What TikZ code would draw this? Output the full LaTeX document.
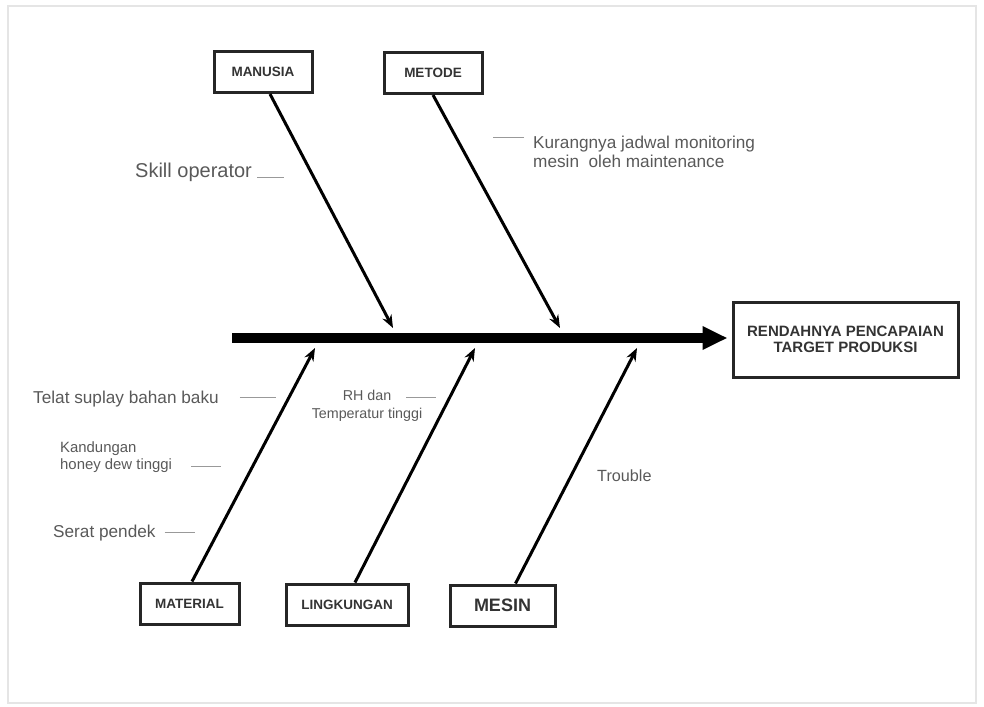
\documentclass[tikz,border=0pt]{standalone}
\usepackage{fontspec}
\setmainfont{Liberation Sans}
\usetikzlibrary{arrows.meta,positioning}
\tikzset{>=stealth}
\tikzset{
  cat/.style={draw=black!85, line width=3pt, minimum height=41pt, inner sep=0pt,
    text=black!80, font=\bfseries\fontsize{13.5}{15}\selectfont},
  cause/.style={inner sep=0pt, align=left, text=black!65,
    font=\fontsize{17.2}{19}\selectfont},
  tick/.style={draw=black!40, line width=1pt},
  bone/.style={line width=3pt, -{Stealth[length=13pt,width=10pt]}},
  spine/.style={line width=10pt, -{Triangle[length=25pt,width=22pt]}}
}

\begin{document}
\begin{tikzpicture}[x=1pt,y=-1pt]
  \useasboundingbox (0,0) rectangle (984,706);
  \draw[black!10, line width=1.5pt] (8,6) rectangle (976,703);

  \node[cat, minimum width=98pt] (man) at (263,72) {MANUSIA};
  \node[cat, minimum width=98pt] (met) at (433,73) {METODE};
  \node[cat, minimum width=99pt] (mat) at (189.5,603.5) {MATERIAL};
  \node[cat, minimum width=122pt] (lin) at (347,604.5) {LINGKUNGAN};
  \node[cat, minimum width=105pt, font=\bfseries\fontsize{18}{20}\selectfont] (mes) at (502.5,605.5) {MESIN};
  \node[cat, minimum width=225pt, minimum height=75pt, align=center,
    font=\bfseries\fontsize{15}{16}\selectfont] (eff) at (845.5,339.5) {RENDAHNYA PENCAPAIAN\\TARGET PRODUKSI};

  \coordinate (tail) at (232,338);
  \draw[spine] (tail) -- ([xshift=-4pt]tail -| eff.west);

  \coordinate (mantip) at (393,328);
  \coordinate (mettip) at (560,328);
  \coordinate (mattip) at (315,348);
  \coordinate (lintip) at (475,348);
  \coordinate (mestip) at (637,348);
  \draw[bone] ([xshift=7pt]man.south) -- (mantip);
  \draw[bone] (met.south) -- (mettip);
  \draw[bone] ([xshift=2.5pt]mat.north) -- (mattip);
  \draw[bone] ([xshift=8pt]lin.north) -- (lintip);
  \draw[bone] ([xshift=13pt]mes.north) -- (mestip);

  \node[cause, anchor=west, font=\fontsize{20}{22}\selectfont] (skill) at (135,172) {Skill operator};
  \node[cause, anchor=west] (kur) at (533,152) {Kurangnya jadwal monitoring\\mesin\ \ oleh maintenance};
  \node[cause, anchor=west] (tel) at (33,399) {Telat suplay bahan baku};
  \node[cause, align=center, font=\fontsize{14.3}{18}\selectfont] (rh) at (367,406) {RH dan\\Temperatur tinggi};
  \node[cause, anchor=west, font=\fontsize{14.9}{17}\selectfont] (kan) at (60,457) {Kandungan\\honey dew tinggi};
  \node[cause, anchor=west] (ser) at (53,533) {Serat pendek};
  \node[cause, anchor=west, font=\fontsize{16.2}{18}\selectfont] (tro) at (597,476) {Trouble};

  \draw[tick] ([shift={(5,5)}]skill.east) -- ++(27,0);
  \draw[tick] ([shift={(-9,-15)}]kur.west) -- ++(-31,0);
  \draw[tick] ([shift={(21,-2)}]tel.east) -- ++(36,0);
  \draw[tick] ([shift={(-16,-9)}]rh.east) -- ++(30,0);
  \draw[tick] ([shift={(19,9)}]kan.east) -- ++(30,0);
  \draw[tick] ([shift={(9,-1)}]ser.east) -- ++(30,0);
\end{tikzpicture}
\end{document}
